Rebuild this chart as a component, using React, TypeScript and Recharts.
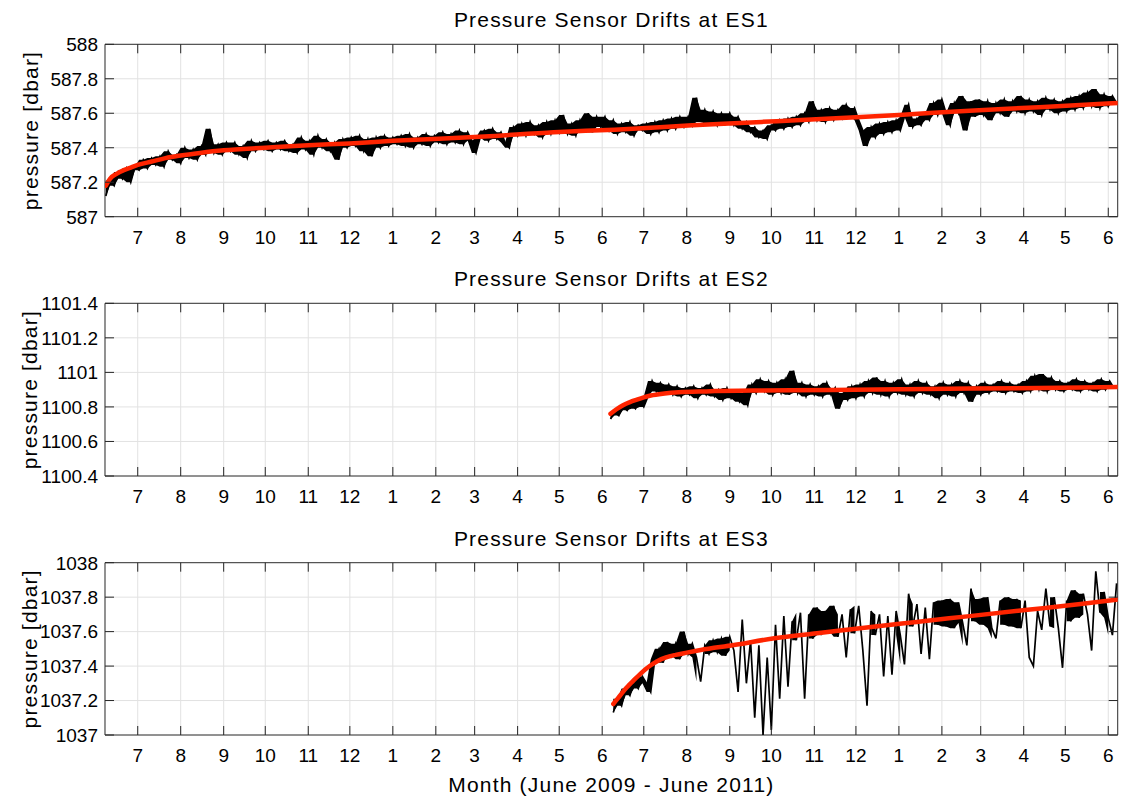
import { Line, Area, XAxis, YAxis, CartesianGrid, ReferenceArea, ComposedChart } from "recharts";

// x axis: days counted from 1 July 2009
const monthTicks = [0, 31, 62, 92, 123, 153, 184, 215, 243, 274, 304, 335, 365, 396, 427, 457, 488, 518, 549, 580, 608, 639, 669, 700];
const monthLabels = ["7", "8", "9", "10", "11", "12", "1", "2", "3", "4", "5", "6", "7", "8", "9", "10", "11", "12", "1", "2", "3", "4", "5", "6"];
const dayDomain = [-23.6, 706.8];
const sampleStep = 3;

// ES1 pressure record, one value every 3 days from day -23
const es1Start = -23;
const es1Values = [
  587.12, 587.21, 587.18, 587.26, 587.22, 587.28, 587.20, 587.29, 587.27, 587.33,
  587.28, 587.34, 587.30, 587.35, 587.29, 587.38, 587.33, 587.36, 587.31, 587.40,
  587.34, 587.39, 587.33, 587.41, 587.36, 587.51, 587.37, 587.42, 587.36, 587.43,
  587.38, 587.43, 587.36, 587.41, 587.34, 587.44, 587.38, 587.43, 587.39, 587.44,
  587.38, 587.43, 587.39, 587.44, 587.38, 587.42, 587.37, 587.46, 587.39, 587.44,
  587.36, 587.47, 587.40, 587.45, 587.38, 587.43, 587.33, 587.45, 587.40, 587.46,
  587.41, 587.47, 587.38, 587.45, 587.35, 587.46, 587.40, 587.47, 587.41, 587.46,
  587.42, 587.47, 587.41, 587.48, 587.40, 587.46, 587.42, 587.48, 587.41, 587.47,
  587.43, 587.49, 587.42, 587.48, 587.43, 587.50, 587.42, 587.49, 587.44, 587.37,
  587.46, 587.50, 587.44, 587.51, 587.45, 587.49, 587.43, 587.40, 587.52, 587.47,
  587.54, 587.47, 587.55, 587.48, 587.53, 587.46, 587.55, 587.48, 587.56, 587.49,
  587.59, 587.48, 587.54, 587.47, 587.56, 587.50, 587.60, 587.49, 587.58, 587.52,
  587.58, 587.50, 587.56, 587.48, 587.54, 587.49, 587.55, 587.47, 587.53, 587.50,
  587.54, 587.48, 587.55, 587.49, 587.56, 587.50, 587.57, 587.51, 587.58, 587.52,
  587.58, 587.53, 587.69, 587.55, 587.62, 587.54, 587.61, 587.53, 587.60, 587.54,
  587.60, 587.53, 587.58, 587.51, 587.55, 587.49, 587.52, 587.46, 587.50, 587.45,
  587.53, 587.50, 587.56, 587.51, 587.57, 587.52, 587.58, 587.53, 587.60, 587.55,
  587.67, 587.56, 587.62, 587.55, 587.63, 587.56, 587.62, 587.57, 587.65, 587.58,
  587.63, 587.56, 587.50, 587.41, 587.52, 587.46, 587.54, 587.48, 587.55, 587.49,
  587.56, 587.50, 587.58, 587.65, 587.52, 587.57, 587.53, 587.60, 587.56, 587.66,
  587.59, 587.68, 587.60, 587.53, 587.66, 587.60, 587.70, 587.50, 587.67, 587.58,
  587.68, 587.59, 587.67, 587.56, 587.66, 587.60, 587.68, 587.58, 587.67, 587.61,
  587.70, 587.60, 587.68, 587.61, 587.67, 587.59, 587.69, 587.62, 587.68, 587.60,
  587.67, 587.61, 587.69, 587.62, 587.70, 587.63, 587.72, 587.64, 587.74, 587.63,
  587.71, 587.64, 587.70, 587.66,
];
const es1FitDays = [-23, -20, -15, -10, -5, 0, 10, 20, 31, 45, 62, 92, 123, 153, 184, 250, 300, 344, 400, 450, 500, 549, 600, 650, 707];
const es1FitValues = [587.18, 587.22, 587.25, 587.27, 587.285, 587.30, 587.32, 587.34, 587.355, 587.37, 587.385, 587.40, 587.415, 587.425, 587.44, 587.465, 587.49, 587.505, 587.53, 587.55, 587.57, 587.59, 587.615, 587.635, 587.66];
const es1Ticks = [587, 587.2, 587.4, 587.6, 587.8, 588];

// ES2 pressure record, one value every 3 days from day 341
const es2Start = 341;
const es2Values = [
  1100.73, 1100.77, 1100.75, 1100.80, 1100.78, 1100.82, 1100.79, 1100.84, 1100.80, 1100.86,
  1100.95, 1100.89, 1100.94, 1100.88, 1100.93, 1100.87, 1100.92, 1100.86, 1100.91, 1100.87,
  1100.92, 1100.85, 1100.91, 1100.87, 1100.93, 1100.86, 1100.90, 1100.84, 1100.91, 1100.85,
  1100.89, 1100.83, 1100.88, 1100.81, 1100.93, 1100.88, 1100.96, 1100.89, 1100.95, 1100.87,
  1100.94, 1100.88, 1100.96, 1100.87, 1101.01, 1100.88, 1100.94, 1100.86, 1100.93, 1100.87,
  1100.92, 1100.86, 1100.94, 1100.87, 1100.91, 1100.79, 1100.88, 1100.84, 1100.92, 1100.85,
  1100.93, 1100.86, 1100.95, 1100.88, 1100.97, 1100.87, 1100.95, 1100.86, 1100.94, 1100.88,
  1100.96, 1100.87, 1100.93, 1100.86, 1100.95, 1100.88, 1100.94, 1100.87, 1100.92, 1100.85,
  1100.94, 1100.87, 1100.93, 1100.86, 1100.95, 1100.88, 1100.94, 1100.83, 1100.92, 1100.87,
  1100.94, 1100.88, 1100.93, 1100.89, 1100.95, 1100.88, 1100.94, 1100.89, 1100.93, 1100.88,
  1100.95, 1100.89, 1100.98, 1100.90, 1100.99, 1100.89, 1100.97, 1100.90, 1100.95, 1100.89,
  1100.94, 1100.90, 1100.96, 1100.89, 1100.95, 1100.90, 1100.94, 1100.89, 1100.96, 1100.90,
  1100.95, 1100.91,
];
const es2FitDays = [341, 345, 350, 355, 360, 365, 370, 380, 390, 410, 450, 500, 550, 600, 650, 707];
const es2FitValues = [1100.76, 1100.785, 1100.81, 1100.828, 1100.842, 1100.855, 1100.866, 1100.878, 1100.885, 1100.89, 1100.895, 1100.898, 1100.902, 1100.906, 1100.91, 1100.915];
const es2Ticks = [1100.4, 1100.6, 1100.8, 1101, 1101.2, 1101.4];

// ES3 pressure record, one value every 3 days from day 343
const es3Start = 343;
const es3Values = [
  1037.13, 1037.21, 1037.17, 1037.27, 1037.23, 1037.31, 1037.27, 1037.34, 1037.30, 1037.25,
  1037.44, 1037.50, 1037.42, 1037.54, 1037.46, 1037.53, 1037.44, 1037.60, 1037.47, 1037.53,
  1037.45, 1037.31, 1037.52, 1037.47, 1037.55, 1037.48, 1037.56, 1037.46, 1037.57, 1037.49,
  1037.25, 1037.67, 1037.30, 1037.55, 1037.10, 1037.52, 1037.00, 1037.45, 1037.03, 1037.64,
  1037.21, 1037.69, 1037.28, 1037.66, 1037.55, 1037.71, 1037.21, 1037.70, 1037.56, 1037.74,
  1037.58, 1037.72, 1037.60, 1037.75, 1037.57, 1037.70, 1037.45, 1037.73, 1037.59, 1037.75,
  1037.49, 1037.17, 1037.72, 1037.58, 1037.70, 1037.34, 1037.69, 1037.35, 1037.72, 1037.58,
  1037.41, 1037.82, 1037.63, 1037.76, 1037.47, 1037.74, 1037.44, 1037.77, 1037.64, 1037.78,
  1037.63, 1037.79, 1037.62, 1037.77, 1037.65, 1037.52, 1037.85, 1037.66, 1037.79, 1037.64,
  1037.80, 1037.62, 1037.56, 1037.78, 1037.64, 1037.80, 1037.63, 1037.79, 1037.62, 1037.78,
  1037.45, 1037.40, 1037.72, 1037.61, 1037.85, 1037.63, 1037.80, 1037.62, 1037.39, 1037.78,
  1037.66, 1037.84, 1037.68, 1037.82, 1037.70, 1037.49, 1037.95, 1037.71, 1037.83, 1037.68,
  1037.58, 1037.88,
];
const es3FitDays = [343, 346, 349, 352, 355, 358, 362, 366, 370, 375, 381, 388, 396, 406, 430, 458, 490, 521, 560, 600, 640, 680, 707];
const es3FitValues = [1037.18, 1037.21, 1037.24, 1037.27, 1037.295, 1037.32, 1037.35, 1037.38, 1037.405, 1037.43, 1037.45, 1037.465, 1037.478, 1037.493, 1037.522, 1037.56, 1037.59, 1037.62, 1037.655, 1037.69, 1037.725, 1037.76, 1037.787];
const es3Ticks = [1037, 1037.2, 1037.4, 1037.6, 1037.8, 1038];

// each sample also carries the span to the next sample, so the dense record fills in as a band;
// spans larger than maxSpan are left as bare spikes of the line
const toSeries = (start: number, values: number[], maxSpan: number) =>
  values.map((p, i) => {
    const next = i + 1 < values.length ? values[i + 1] : p;
    const band = Math.abs(next - p) <= maxSpan ? [Math.min(p, next), Math.max(p, next)] : null;
    return { d: start + i * sampleStep, p, band };
  });
const toFit = (days: number[], values: number[]) => days.map((d, i) => ({ d, p: values[i] }));

const W = 1122;
const PLOT_LEFT = 105;
const PLOT_RIGHT = 1117.7;
const YAXIS_W = 75;
const XAXIS_H = 30;
const FONT = "'Liberation Sans', Arial, Helvetica, sans-serif";
const TICK_COLOR = "#262626";

const panels = [
  { name: "ES1", top: 0, height: 260, plotTop: 44.3, plotBottom: 216.7, data: toSeries(es1Start, es1Values, 1), fit: toFit(es1FitDays, es1FitValues), ticks: es1Ticks },
  { name: "ES2", top: 260, height: 260, plotTop: 43.3, plotBottom: 216, data: toSeries(es2Start, es2Values, 1), fit: toFit(es2FitDays, es2FitValues), ticks: es2Ticks },
  { name: "ES3", top: 520, height: 280, plotTop: 42.7, plotBottom: 215, data: toSeries(es3Start, es3Values, 0.205), fit: toFit(es3FitDays, es3FitValues), ticks: es3Ticks },
];

function MonthTick(props: any) {
  const { x, payload, plotTop, plotBottom } = props;
  const label = monthLabels[monthTicks.indexOf(payload.value)];
  return (
    <g>
      <line x1={x} x2={x} y1={plotBottom} y2={plotBottom - 9} stroke={TICK_COLOR} />
      <line x1={x} x2={x} y1={plotTop} y2={plotTop + 9} stroke={TICK_COLOR} />
      <text x={x} y={plotBottom + 20} dy="0.36em" textAnchor="middle" fontSize={19} fontFamily={FONT} fill="#000">
        {label}
      </text>
    </g>
  );
}

function PressureTick(props: any) {
  const { y, payload } = props;
  return (
    <g>
      <line x1={PLOT_LEFT} x2={PLOT_LEFT + 9} y1={y} y2={y} stroke={TICK_COLOR} />
      <line x1={PLOT_RIGHT - 9} x2={PLOT_RIGHT} y1={y} y2={y} stroke={TICK_COLOR} />
      <text x={PLOT_LEFT - 7} y={y} dy="0.36em" textAnchor="end" fontSize={19} fontFamily={FONT} fill="#000">
        {String(payload.value)}
      </text>
    </g>
  );
}

function Panel({ panel }: { panel: (typeof panels)[number] }) {
  const yDomain = [panel.ticks[0], panel.ticks[panel.ticks.length - 1]];
  return (
    <div style={{ position: "absolute", left: 0, top: panel.top }}>
      <ComposedChart
        width={W}
        height={panel.height}
        margin={{
          top: panel.plotTop,
          bottom: panel.height - panel.plotBottom - XAXIS_H,
          left: PLOT_LEFT - YAXIS_W,
          right: W - PLOT_RIGHT,
        }}
      >
        <CartesianGrid stroke="#e2e2e2" />
        <XAxis
          dataKey="d"
          type="number"
          domain={dayDomain}
          allowDataOverflow
          ticks={monthTicks}
          interval={0}
          height={XAXIS_H}
          axisLine={false}
          tickLine={false}
          tick={(p: any) => <MonthTick {...p} plotTop={panel.plotTop} plotBottom={panel.plotBottom} />}
        />
        <YAxis
          type="number"
          domain={yDomain}
          allowDataOverflow
          ticks={panel.ticks}
          interval={0}
          width={YAXIS_W}
          axisLine={false}
          tickLine={false}
          tick={(p: any) => <PressureTick {...p} />}
        />
        <Area data={panel.data} dataKey="band" type="linear" stroke="none" fill="#000" fillOpacity={1} dot={false} activeDot={false} connectNulls={false} isAnimationActive={false} />
        <Line data={panel.data} dataKey="p" type="linear" stroke="#000" strokeWidth={1.7} dot={false} isAnimationActive={false} />
        <Line data={panel.fit} dataKey="p" type="monotone" stroke="#ff2400" strokeWidth={4.5} strokeLinecap="round" dot={false} isAnimationActive={false} />
        <ReferenceArea x1={dayDomain[0]} x2={dayDomain[1]} y1={yDomain[0]} y2={yDomain[1]} fill="none" stroke="#333" strokeWidth={1} />
      </ComposedChart>
    </div>
  );
}

export default function App() {
  const midX = (PLOT_LEFT + PLOT_RIGHT) / 2;
  return (
    <div style={{ position: "absolute", left: 0, top: 0, width: W, height: 800, background: "#fff" }}>
      {panels.map((panel) => (
        <Panel key={panel.name} panel={panel} />
      ))}
      <svg width={W} height={800} style={{ position: "absolute", left: 0, top: 0, pointerEvents: "none" }}>
        {panels.map((panel) => (
          <g key={panel.name} fontFamily={FONT} fontSize={21} letterSpacing={1.2} fill="#000">
            <text x={midX} y={panel.top + panel.plotTop - 17} textAnchor="middle">
              {`Pressure Sensor Drifts at ${panel.name}`}
            </text>
            <text
              x={30}
              y={panel.top + (panel.plotTop + panel.plotBottom) / 2}
              textAnchor="middle"
              dominantBaseline="central"
              transform={`rotate(-90 30 ${panel.top + (panel.plotTop + panel.plotBottom) / 2})`}
            >
              pressure [dbar]
            </text>
          </g>
        ))}
        <text x={midX} y={792} textAnchor="middle" fontFamily={FONT} fontSize={21} letterSpacing={1.2} fill="#000">
          Month (June 2009 - June 2011)
        </text>
      </svg>
    </div>
  );
}
